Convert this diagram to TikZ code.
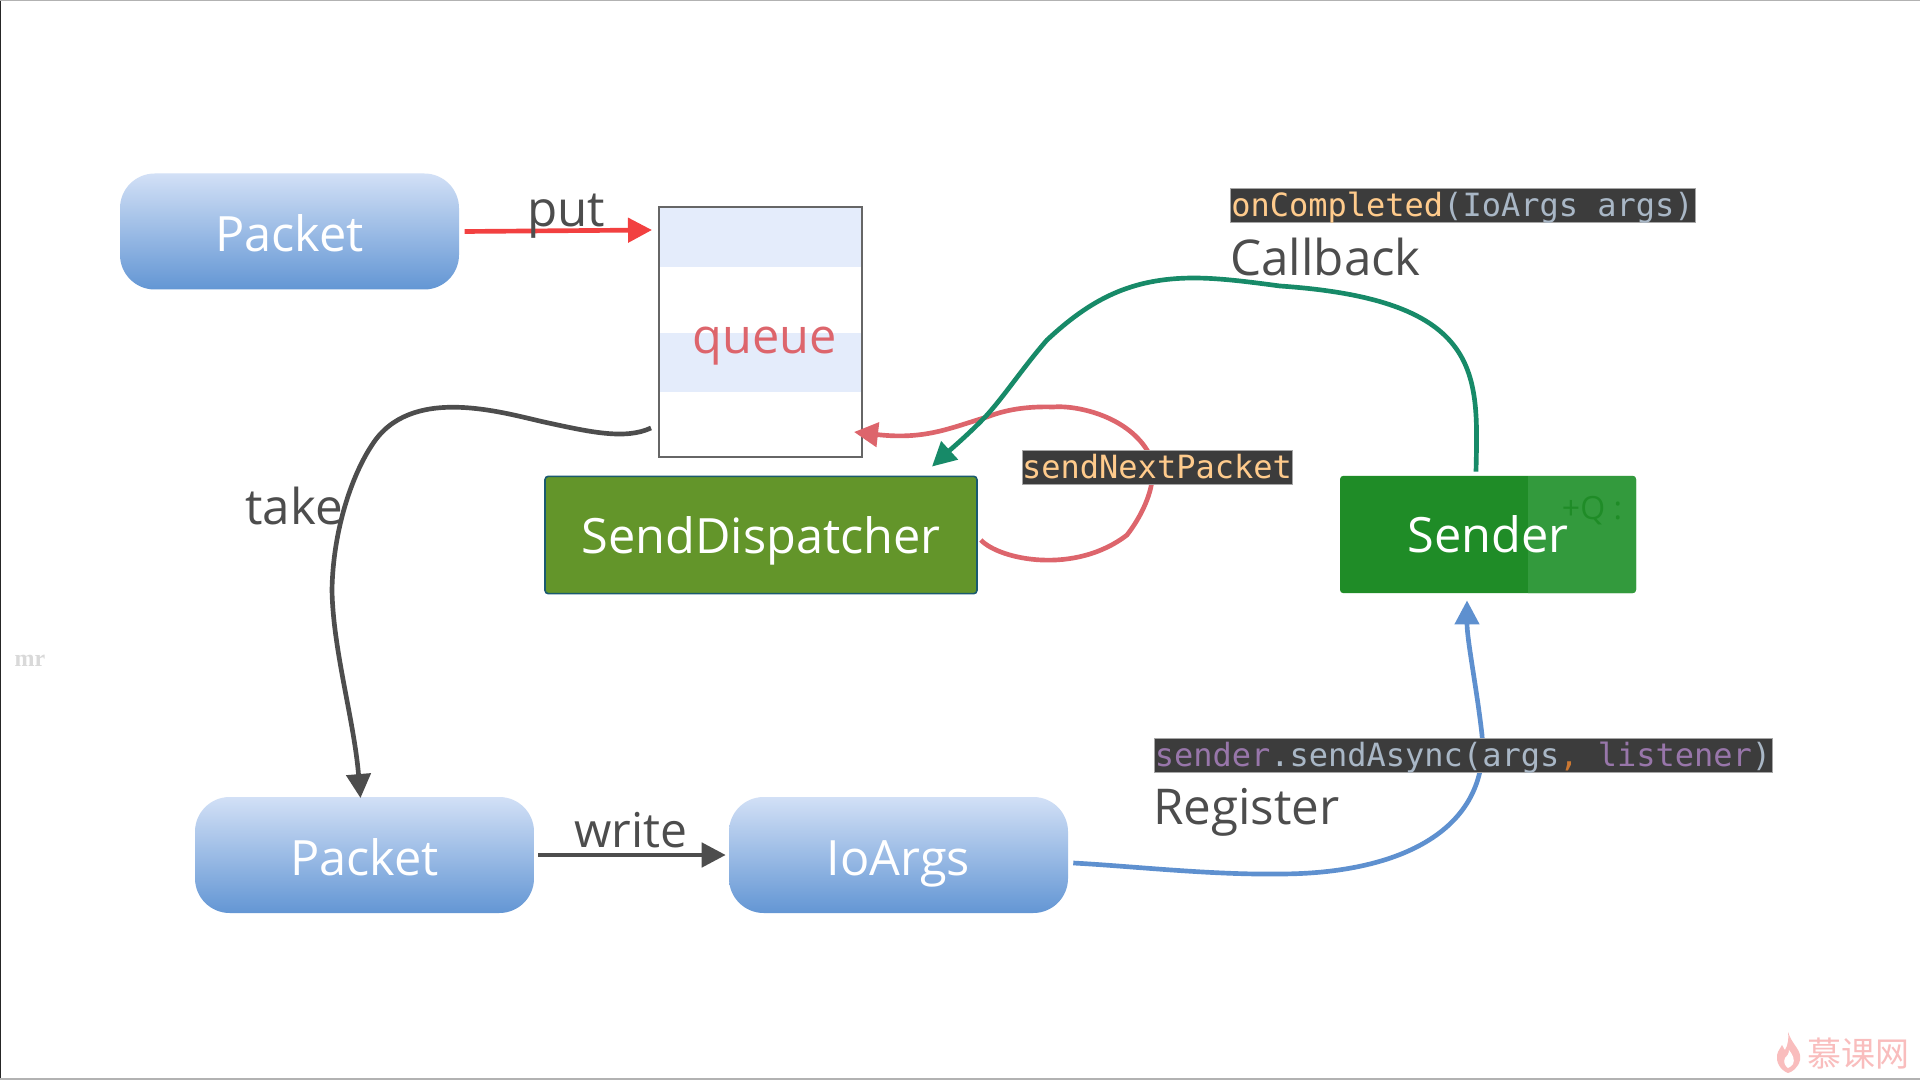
\documentclass[tikz,border=0pt]{standalone}
\usepackage{fontspec}
\setmainfont{Open Sans}
\newfontfamily\codefont{DejaVu Sans Mono}
\newfontfamily\cjkfont{Noto Sans CJK SC}
\newfontfamily\serifbold{Liberation Serif}[BoldFont={Liberation Serif Bold}]
\usetikzlibrary{arrows.meta,shapes.geometric}
\definecolor{inkgray}{HTML}{4D4D4D}
\definecolor{bandblue}{HTML}{E4ECFB}
\definecolor{gradtop}{HTML}{D2E0F6}
\definecolor{gradbot}{HTML}{6396D4}
\definecolor{putred}{HTML}{F24040}
\definecolor{loopred}{HTML}{DD656C}
\definecolor{cbgreen}{HTML}{178A68}
\definecolor{regblue}{HTML}{5E90CF}
\definecolor{dispgreen}{HTML}{63952A}
\definecolor{dispedge}{HTML}{1A5A70}
\definecolor{sendgreen}{HTML}{1F8C27}
\definecolor{sendlight}{HTML}{339A3D}
\definecolor{codebg}{HTML}{3C3C3C}
\definecolor{codeorange}{HTML}{FFCB8C}
\definecolor{codegray}{HTML}{A9B7C6}
\definecolor{codepurple}{HTML}{9876AA}
\definecolor{commaorange}{HTML}{CC7832}
\definecolor{wmpink}{HTML}{F9BDBD}
\tikzset{
  x=0.75pt,y=-0.75pt,
  pill/.style={rounded corners=26pt,top color=gradtop,bottom color=gradbot,draw=none,
    minimum width=254.25pt,minimum height=87pt,inner sep=0pt,text=white,
    text height=30.75pt,text depth=0pt,font=\fontsize{36.5}{40}\selectfont},
  flatbox/.style={rounded corners=2.5pt,inner sep=0pt,text=white,minimum height=88pt,
    text height=27pt,text depth=0pt,font=\fontsize{36.5}{40}\selectfont},
  lbl/.style={text=inkgray,inner sep=0pt,anchor=base,font=\fontsize{37}{40}\selectfont},
  codebox/.style={fill=codebg,draw=gray!70,line width=0.5pt,inner sep=0pt,minimum height=25.5pt,
    text height=17.2pt,text depth=0pt,font=\codefont\fontsize{24}{26}\selectfont},
  conn/.style={line width=3.5pt},
  tipped/.style={-{Triangle[length=18pt,width=18pt]}}
}
\begin{document}
\begin{tikzpicture}
\useasboundingbox (0,0) rectangle (1920,1080);
\fill[white] (0,0) rectangle (1920,1080);
\draw[black!85,line width=1.5pt] (0,0) -- (0,1080);
\draw[gray!60,line width=1pt] (0,0.5) -- (1920,0.5);
\draw[gray!60,line width=1.2pt] (0,1079) -- (1920,1079);
\node[text=black!15,inner sep=0pt,font=\serifbold\bfseries\fontsize{18}{20}\selectfont] (mr) at (30,661) {mr};

% queue
\fill[bandblue] (659,207) rectangle (862,267);
\fill[bandblue] (659,333) rectangle (862,392);
\node[draw=black!60,line width=1.5pt,minimum width=152.25pt,minimum height=187.5pt,inner sep=0pt] (queue) at (760.5,332) {};
\node[text=loopred,inner sep=0pt,anchor=base,font=\fontsize{36.5}{40}\selectfont] (queuetxt) at (765,354) {queue};

% blocks
\node[pill] (p1) at (289.5,231.5) {Packet};
\node[pill] (p2) at (364.5,855) {Packet};
\node[pill] (io) at (898.5,855) {IoArgs};
\node[flatbox,fill=dispgreen,draw=dispedge,line width=1.2pt,minimum width=324pt] (disp) at (761,535) {SendDispatcher};
\node[flatbox,fill=sendgreen,minimum width=222pt] (sender) at (1488,534.5) {};
\fill[sendlight] (1528,476) {[rounded corners=2.5pt] -- (1636,476) -- (1636,593)} -- (1528,593) -- cycle;
\node[text=sendgreen,inner sep=0pt,font=\fontsize{24}{28}\selectfont] (faint) at (1592,511) {+Q :};
\node[text=white,inner sep=0pt,anchor=base,font=\fontsize{36.5}{40}\selectfont] (sendertxt) at (1488,552) {Sender};

% connectors
\draw[conn,putred,tipped] ([xshift=4]p1.east) -- ([shift={(-6,24)}]queue.north west);
\draw[conn,inkgray,tipped] ([xshift=3]p2.east) -- ([shift={(-3,0)}]io.west);
\draw[conn,inkgray,tipped] ([shift={(-7,-30)}]queue.south west)
  .. controls (625,440) and (590,432) .. (544,422)
  .. controls (500,412) and (410,385) .. (372,445)
  .. controls (352,475) and (333,530) .. (332,590)
  .. controls (333,650) and (354,720) .. ([xshift=-3,yshift=-1]p2.north);
\draw[conn,loopred,tipped] ([shift={(3,5)}]disp.east)
  .. controls (1000,560) and (1075,575) .. (1127,535)
  .. controls (1150,505) and (1160,470) .. (1147,450)
  .. controls (1125,415) and (1075,405) .. (1053,407)
  .. controls (1020,406) and (1000,412) .. (987,417)
  .. controls (950,428) and (925,440) .. ([shift={(-9,-26)}]queue.south east);
\draw[conn,cbgreen,tipped] ([shift={(-12,-4)}]sender.north)
  .. controls (1478,375) and (1485,300) .. (1280,286)
  .. controls (1250,282) and (1220,278) .. (1194,278)
  .. controls (1130,278) and (1090,300) .. (1047,340)
  .. controls (1025,365) and (1005,395) .. (987,415)
  .. controls (970,433) and (950,450) .. ([shift={(171,-9)}]disp.north);
\draw[conn,regblue,tipped] ([shift={(5,8)}]io.east)
  .. controls (1130,866) and (1210,875) .. (1279,874)
  .. controls (1400,874) and (1490,830) .. (1482,735)
  .. controls (1477,690) and (1467,640) .. ([shift={(-21,7)}]sender.south);

% labels
\node[lbl] (putl) at (566,227) {put};
\node[lbl] (takel) at (294,524) {take};
\node[lbl,font=\fontsize{36}{40}\selectfont] (writel) at (631,847) {write};
\node[lbl,anchor=base west] (cbl) at (1230,276) {Callback};
\node[lbl,anchor=base west] (regl) at (1153,824) {Register};
\node[codebox,minimum width=348.75pt] (c1) at (1462.5,205.5) {\textcolor{codeorange}{onCompleted}\textcolor{codegray}{(IoArgs args)}};
\node[codebox,minimum width=202.5pt,text=codeorange] (c2) at (1157,467) {sendNextPacket};
\node[codebox,minimum width=463.5pt] (c3) at (1463,755) {\textcolor{codepurple}{sender}\textcolor{codegray}{.sendAsync(args}\textcolor{commaorange}{,} \textcolor{codepurple}{listener}\textcolor{codegray}{)}};

% watermark
\fill[wmpink] (1788,1032) .. controls (1792,1045) and (1802,1050) .. (1800,1060)
  .. controls (1798,1068) and (1792,1072) .. (1788,1073)
  .. controls (1780,1070) and (1776,1062) .. (1777,1055)
  .. controls (1778,1050) and (1781,1048) .. (1782,1045)
  .. controls (1784,1048) and (1784,1050) .. (1785,1050)
  .. controls (1788,1045) and (1789,1038) .. (1788,1032) -- cycle;
\fill[white] (1789,1050) .. controls (1793,1055) and (1795,1060) .. (1793,1064)
  .. controls (1792,1066) and (1790,1067) .. (1788,1068)
  .. controls (1785,1066) and (1783,1062) .. (1785,1058)
  .. controls (1787,1056) and (1789,1054) .. (1789,1050) -- cycle;
\node[text=wmpink,inner sep=0pt,font=\cjkfont\fontsize{25.5}{27}\selectfont] (wm) at (1858.5,1054) {慕课网};
\end{tikzpicture}
\end{document}
